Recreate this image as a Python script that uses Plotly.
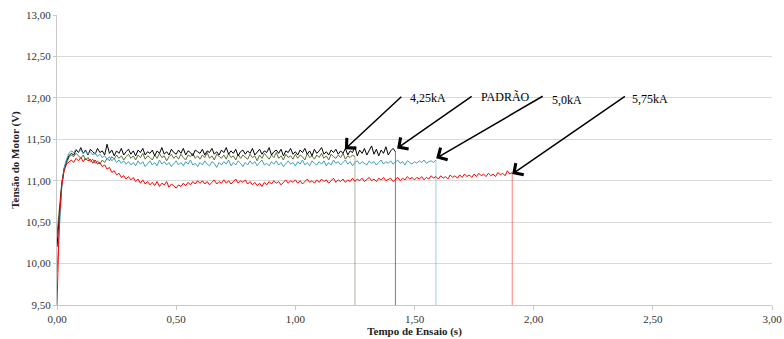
import plotly.graph_objects as go

# Motor voltage readings (V), one sample every 10 ms from the start of each test
SAMPLE_STEP = 0.01

padrao_v = [
    10.20, 10.60, 10.95, 11.15, 11.24, 11.30, 11.33, 11.31, 11.37, 11.34,
    11.40, 11.33, 11.37, 11.31, 11.38, 11.35, 11.32, 11.39, 11.34, 11.36,
    11.31, 11.44, 11.33, 11.37, 11.30, 11.36, 11.33, 11.39, 11.31, 11.35,
    11.38, 11.32, 11.36, 11.30, 11.37, 11.34, 11.39, 11.31, 11.35, 11.33,
    11.37, 11.30, 11.36, 11.33, 11.40, 11.32, 11.35, 11.31, 11.38, 11.34,
    11.32, 11.37, 11.33, 11.39, 11.31, 11.36, 11.34, 11.30, 11.37, 11.35,
    11.33, 11.38, 11.31, 11.36, 11.34, 11.39, 11.32, 11.35, 11.31, 11.37,
    11.34, 11.40, 11.32, 11.36, 11.33, 11.38, 11.30, 11.35, 11.37, 11.32,
    11.36, 11.33, 11.39, 11.31, 11.35, 11.38, 11.32, 11.36, 11.34, 11.40,
    11.31, 11.35, 11.37, 11.33, 11.38, 11.30, 11.36, 11.34, 11.39, 11.32,
    11.35, 11.31, 11.37, 11.34, 11.39, 11.32, 11.36, 11.30, 11.38, 11.33,
    11.36, 11.40, 11.32, 11.35, 11.31, 11.37, 11.34, 11.38, 11.32, 11.36,
    11.33, 11.39, 11.31, 11.36, 11.34, 11.41, 11.30, 11.37, 11.33, 11.39,
    11.31, 11.36, 11.42, 11.32, 11.38, 11.30, 11.37, 11.33, 11.41, 11.31,
    11.36, 11.39, 11.35,
]

ka425_v = [
    10.35, 10.65, 10.98, 11.14, 11.22, 11.28, 11.31, 11.29, 11.33, 11.30,
    11.27, 11.31, 11.25, 11.28, 11.23, 11.26, 11.21, 11.24, 11.20, 11.25,
    11.22, 11.27, 11.24, 11.29, 11.26, 11.31, 11.27, 11.30, 11.25, 11.29,
    11.32, 11.27, 11.30, 11.25, 11.31, 11.28, 11.33, 11.26, 11.30, 11.28,
    11.25, 11.31, 11.27, 11.33, 11.28, 11.30, 11.24, 11.29, 11.32, 11.27,
    11.30, 11.26, 11.32, 11.28, 11.25, 11.31, 11.29, 11.33, 11.27, 11.30,
    11.26, 11.31, 11.28, 11.34, 11.27, 11.30, 11.25, 11.32, 11.29, 11.27,
    11.31, 11.26, 11.33, 11.28, 11.30, 11.25, 11.32, 11.27, 11.31, 11.29,
    11.26, 11.32, 11.28, 11.30, 11.24, 11.31, 11.27, 11.33, 11.29, 11.26,
    11.31, 11.28, 11.34, 11.27, 11.30, 11.25, 11.32, 11.28, 11.30, 11.26,
    11.32, 11.27, 11.31, 11.29, 11.25, 11.33, 11.28, 11.30, 11.26, 11.31,
    11.28, 11.33, 11.27, 11.30, 11.25, 11.32, 11.29, 11.27, 11.31, 11.28,
    11.33, 11.26, 11.30, 11.28, 11.31, 11.29,
]

ka50_v = [
    9.90, 10.50, 10.92, 11.15, 11.26, 11.33, 11.36, 11.34, 11.38, 11.35,
    11.37, 11.33, 11.36, 11.32, 11.35, 11.31, 11.34, 11.29, 11.32, 11.28,
    11.30, 11.26, 11.29, 11.24, 11.27, 11.22, 11.25, 11.21, 11.24, 11.20,
    11.23, 11.19, 11.22, 11.18, 11.24, 11.20, 11.23, 11.17, 11.21, 11.24,
    11.19, 11.22, 11.18, 11.25, 11.20, 11.23, 11.19, 11.22, 11.17, 11.21,
    11.24, 11.19, 11.22, 11.18, 11.23, 11.20, 11.25, 11.19, 11.21, 11.17,
    11.22, 11.19, 11.24, 11.20, 11.18, 11.23, 11.21, 11.16, 11.22, 11.19,
    11.23, 11.20, 11.25, 11.18, 11.22, 11.19, 11.24, 11.21, 11.17, 11.22,
    11.19, 11.24, 11.20, 11.23, 11.18, 11.22, 11.25, 11.19, 11.21, 11.18,
    11.23, 11.20, 11.24, 11.19, 11.22, 11.17, 11.21, 11.24, 11.20, 11.22,
    11.18, 11.23, 11.20, 11.25, 11.19, 11.22, 11.18, 11.24, 11.21, 11.19,
    11.23, 11.20, 11.24, 11.18, 11.22, 11.19, 11.25, 11.21, 11.23, 11.19,
    11.22, 11.25, 11.20, 11.23, 11.18, 11.22, 11.24, 11.20, 11.23, 11.21,
    11.19, 11.24, 11.21, 11.23, 11.19, 11.22, 11.25, 11.20, 11.23, 11.21,
    11.24, 11.20, 11.22, 11.25, 11.21, 11.23, 11.19, 11.24, 11.22, 11.20,
    11.23, 11.21, 11.24, 11.22, 11.25, 11.21, 11.23, 11.24, 11.22, 11.25,
]

ka575_v = [
    9.50, 10.55, 10.95, 11.12, 11.20, 11.23, 11.25, 11.22, 11.27, 11.24,
    11.28, 11.23, 11.27, 11.24, 11.26, 11.21, 11.25, 11.20, 11.22, 11.17,
    11.19, 11.14, 11.16, 11.10, 11.12, 11.07, 11.09, 11.04, 11.06, 11.02,
    11.05, 11.01, 11.04, 10.99, 11.02, 10.97, 11.01, 10.96, 10.99, 10.95,
    10.98, 10.94, 10.99, 10.93, 10.97, 10.95, 10.99, 10.92, 10.96, 10.94,
    10.91, 10.95, 10.93, 10.97, 10.94, 10.98, 10.95, 10.99, 10.96, 11.00,
    10.97, 11.00, 10.96, 10.99, 10.95, 10.98, 11.01, 10.96, 10.99, 10.97,
    11.01, 10.97, 11.00, 10.96, 10.99, 11.02, 10.97, 11.00, 10.98, 11.01,
    10.96, 10.99, 10.95, 10.98, 10.94, 10.97, 10.93, 10.98, 10.95, 10.99,
    10.96, 11.00, 10.97, 10.99, 10.95, 10.98, 11.01, 10.97, 11.00, 10.98,
    11.01, 10.97, 11.00, 10.96, 10.99, 11.02, 10.98, 11.00, 10.97, 11.01,
    10.98, 11.02, 10.99, 11.01, 10.97, 11.00, 11.03, 10.98, 11.01, 10.99,
    11.02, 10.98, 11.01, 10.99, 11.03, 10.99, 11.02, 11.00, 11.03, 10.99,
    11.01, 11.04, 11.00, 11.02, 10.99, 11.03, 11.01, 11.04, 11.00, 11.02,
    11.03, 10.99, 11.02, 11.04, 11.00, 11.03, 11.01, 11.05, 11.02, 11.04,
    11.01, 11.04, 11.02, 11.05, 11.01, 11.04, 11.02, 11.06, 11.03, 11.05,
    11.02, 11.06, 11.03, 11.05, 11.02, 11.07, 11.04, 11.06, 11.03, 11.07,
    11.04, 11.08, 11.05, 11.07, 11.04, 11.08, 11.05, 11.09, 11.06, 11.08,
    11.05, 11.09, 11.06, 11.08, 11.05, 11.10, 11.07, 11.09, 11.06, 11.12,
    11.08, 11.10,
]

# Reading logged right after the motor is switched off
OFF_V = 0.0

series_names = ["4,25kA", "PADRÃO", "5,0kA", "5,75kA"]
series_values = [ka425_v, padrao_v, ka50_v, ka575_v]
series_colors = ["#5b7030", "#000000", "#3f9fbf", "#ff0000"]

x_ticks = [0.0, 0.5, 1.0, 1.5, 2.0, 2.5, 3.0]
y_ticks = [9.5, 10.0, 10.5, 11.0, 11.5, 12.0, 12.5, 13.0]

# Callout arrows: (label, tail x, tail y, head x, head y, label x, label y)
callouts = [
    ("4,25kA", 1.451, 12.03, 1.208, 11.38, 1.473, 12.00),
    ("PADRÃO", 1.746, 12.03, 1.427, 11.39, 1.771, 12.01),
    ("5,0kA", 2.044, 12.03, 1.591, 11.27, 2.069, 11.97),
    ("5,75kA", 2.389, 12.03, 1.910, 11.08, 2.405, 11.99),
]

FONT = "serif"

fig = go.Figure()
for name, vals, color in zip(series_names, series_values, series_colors):
    t = [round(i * SAMPLE_STEP, 2) for i in range(len(vals))]
    # running part of the test
    fig.add_trace(go.Scatter(
        x=t, y=vals, mode="lines", name=name,
        line=dict(color=color, width=1),
        showlegend=False,
    ))
    # switch-off step down to the off reading, drawn fainter
    fig.add_trace(go.Scatter(
        x=[t[-1], t[-1]], y=[vals[-1], OFF_V], mode="lines", name=name,
        line=dict(color=color, width=1), opacity=0.5,
        showlegend=False,
    ))

annotations = []
for label, tx, ty, hx, hy, lx, ly in callouts:
    annotations.append(dict(
        x=hx, y=hy, ax=tx, ay=ty, xref="x", yref="y", axref="x", ayref="y",
        text="", showarrow=True, arrowhead=4, arrowsize=1.8, arrowwidth=1.5,
        arrowcolor="#000000", standoff=0,
    ))
    annotations.append(dict(
        x=lx, y=ly, xref="x", yref="y", text=label, showarrow=False,
        xanchor="left", yanchor="middle",
        font=dict(family=FONT, size=12, color="#000000"),
    ))

fig.update_layout(
    width=784, height=339,
    margin=dict(l=57, r=12, t=15, b=34),
    paper_bgcolor="#ffffff", plot_bgcolor="#ffffff",
    separators=",.",
    annotations=annotations,
    font=dict(family=FONT, size=11, color="#333333"),
)
fig.update_xaxes(
    range=[0, 3], tickvals=x_ticks, tickformat=".2f", automargin=False,
    showgrid=False, zeroline=False,
    showline=True, linecolor="#c8c8c8", linewidth=1,
    ticks="outside", ticklen=4, tickcolor="#c8c8c8",
    tickfont=dict(family=FONT, size=11, color="#333333"),
    title=dict(text="<b>Tempo de Ensaio (s)</b>", standoff=2,
               font=dict(family=FONT, size=11, color="#222222")),
)
fig.update_yaxes(
    range=[9.5, 13], tickvals=y_ticks, tickformat=".2f", automargin=False,
    showgrid=True, gridcolor="#d9d9d9", gridwidth=1, zeroline=False,
    showline=True, linecolor="#c8c8c8", linewidth=1,
    ticks="outside", ticklen=3, tickcolor="#c8c8c8",
    tickfont=dict(family=FONT, size=11, color="#333333"),
    title=dict(text="<b>Tensão do Motor (V)</b>", standoff=4,
               font=dict(family=FONT, size=11, color="#222222")),
)

fig.write_html("out.html")
